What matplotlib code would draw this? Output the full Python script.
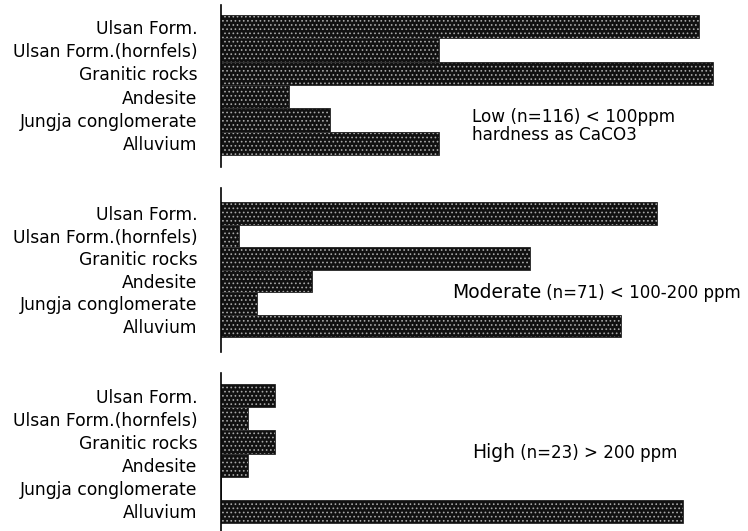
import matplotlib

matplotlib.use("Agg")
import matplotlib.pyplot as plt

plt.rcParams["font.family"] = ["DejaVu Sans"]
plt.rcParams["hatch.linewidth"] = 0.7

# sample counts per geological unit, one list per hardness class
units = ["Ulsan Form.", "Ulsan Form.(hornfels)", "Granitic rocks",
         "Andesite", "Jungja conglomerate", "Alluvium"]
low_counts = [35, 16, 36, 5, 8, 16]
moderate_counts = [24, 1, 17, 5, 2, 22]
high_counts = [2, 1, 2, 1, 0, 17]

W, H = 748, 531
fig = plt.figure(figsize=(W / 100, H / 100), dpi=100)

# pixel layout: spine top, spine bottom, first bar top, last bar bottom, x max
panels = [
    (low_counts, 5, 167, 15, 155, 38.6),
    (moderate_counts, 188, 352, 202, 337, 29.0),
    (high_counts, 373, 531, 384, 523, 19.4),
]
x0 = 221

for counts, s_top, s_bot, b_top, b_bot, xmax in panels:
    ax = fig.add_axes([x0 / W, 1 - s_bot / H, (W - x0) / W, (s_bot - s_top) / H])
    unit = (b_bot - b_top) / len(units)
    ypos = list(range(len(units)))
    # speckled dark fill, then a thin outline on top
    ax.barh(ypos, counts, height=1.0, color="#111111", edgecolor="#a8a8a8",
            hatch="....", linewidth=0)
    ax.barh(ypos, counts, height=1.0, fill=False, edgecolor="#303030",
            linewidth=0.7)
    ax.set_ylim(len(units) - 0.5 + (s_bot - b_bot) / unit,
                -0.5 - (b_top - s_top) / unit)
    ax.set_xlim(0, xmax)
    ax.set_yticks(ypos)
    ax.set_yticklabels(units, fontsize=12.3)
    ax.tick_params(axis="y", length=0, pad=17)
    ax.set_xticks([])
    for side in ("top", "right", "bottom"):
        ax.spines[side].set_visible(False)
    ax.spines["left"].set_linewidth(1.2)
    ax.patch.set_alpha(0)


def px(x, y):
    return x / W, 1 - y / H


fig.text(*px(472, 117), "Low (n=116) < 100ppm", fontsize=12.2, va="center")
fig.text(*px(472, 135), "hardness as CaCO3", fontsize=12.2, va="center")

t = fig.text(*px(452, 292), "Moderate", fontsize=13.5, va="center")
fig.add_artist(plt.Annotation(" (n=71) < 100-200 ppm", xy=(1, 0), xycoords=t,
                              fontsize=12, va="bottom", ha="left",
                              annotation_clip=False))

t2 = fig.text(*px(472, 452), "High", fontsize=13.5, va="center")
fig.add_artist(plt.Annotation(" (n=23) > 200 ppm", xy=(1, 0), xycoords=t2,
                              fontsize=12, va="bottom", ha="left",
                              annotation_clip=False))

fig.savefig("out.png", dpi=100)
